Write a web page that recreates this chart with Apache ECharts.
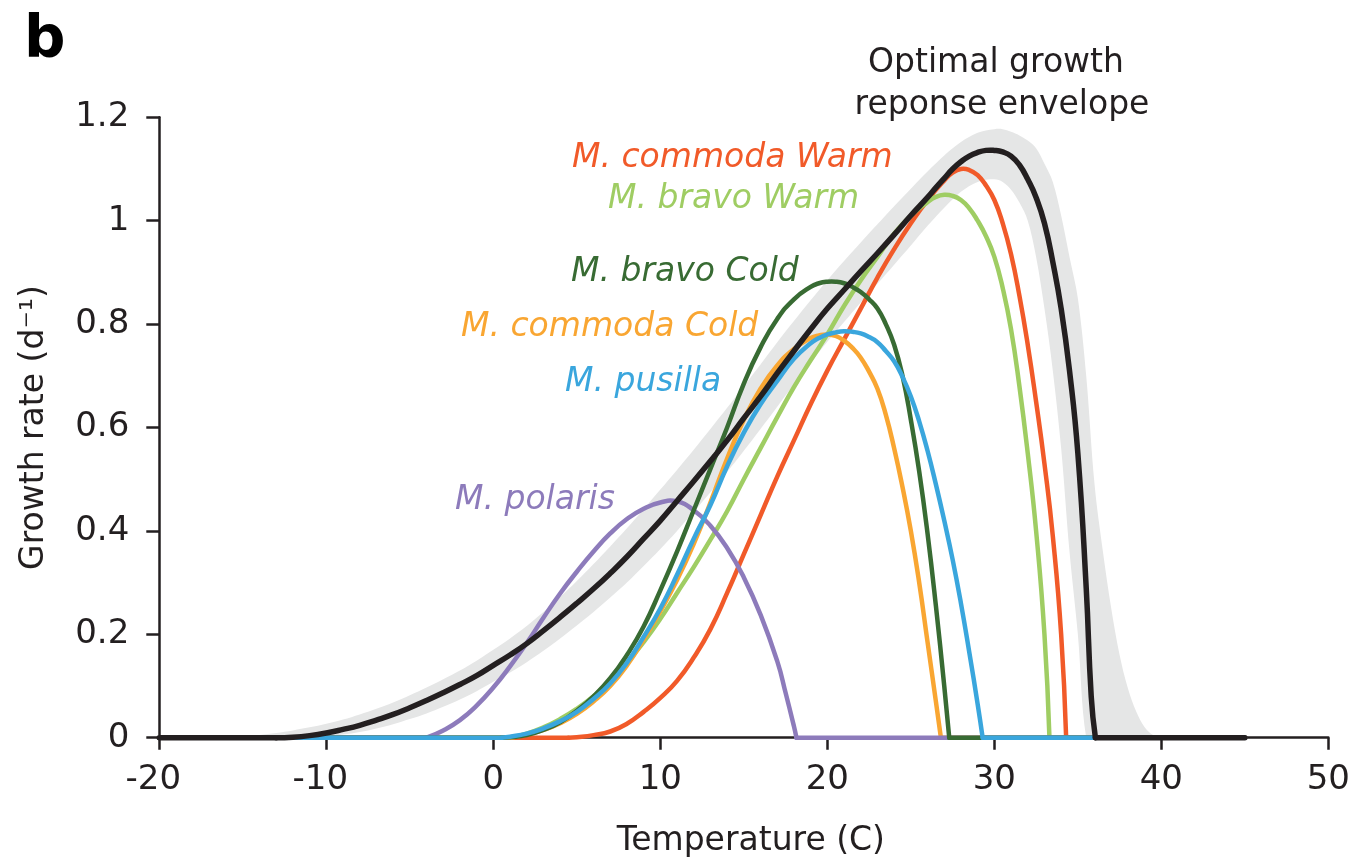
<!DOCTYPE html>
<html>
<head>
<meta charset="utf-8">
<script src="https://cdn.jsdelivr.net/npm/echarts@6/dist/echarts.min.js"></script>
<style>
html,body{margin:0;padding:0;background:#ffffff;}
#chart{width:1353px;height:865px;}
</style>
</head>
<body>
<div id="chart"></div>
<script>
// ---------------- data ----------------
const panelLabel = 'b';
const xTitle = 'Temperature (C)';
const yTitle = 'Growth rate (d\u207B\u00B9)';
const envelopeTitle = ['Optimal growth', 'reponse envelope'];
const speciesNames = ['M. commoda Warm', 'M. bravo Warm', 'M. bravo Cold', 'M. commoda Cold', 'M. pusilla', 'M. polaris'];

// curve points [temperature, growth rate]
const commodaWarm = [[4.5,0],[5,0.001],[6,0.005],[7,0.012],[8,0.027],[9,0.05],[10,0.077],[11,0.11],[12,0.155],[13,0.21],[14,0.28],[15,0.355],[16,0.43],[17,0.505],[18,0.575],[19,0.645],[20,0.71],[21,0.77],[22,0.83],[23,0.89],[24,0.945],[25,0.995],[26,1.04],[27,1.078],[27.5,1.093],[28,1.1],[28.5,1.098],[29,1.088],[29.5,1.068],[30,1.04],[30.5,0.995],[31,0.935],[31.5,0.855],[32,0.76],[32.5,0.65],[33,0.53],[33.5,0.39],[34,0.2],[34.3,0]];
const bravoWarm = [[1,0],[2,0.008],[3,0.02],[4,0.036],[5,0.056],[6,0.08],[7,0.11],[8,0.145],[9,0.185],[10,0.23],[11,0.28],[12,0.33],[13,0.383],[14,0.438],[15,0.5],[16,0.56],[17,0.62],[18,0.678],[19,0.73],[20,0.78],[21,0.835],[22,0.885],[23,0.93],[24,0.975],[25,1.01],[26,1.036],[26.5,1.046],[27,1.05],[27.5,1.048],[28,1.04],[28.5,1.024],[29,1.0],[29.5,0.97],[30,0.93],[30.5,0.87],[31,0.79],[31.5,0.68],[32,0.55],[32.5,0.4],[33,0.2],[33.3,0]];
const commodaCold = [[1,0],[2,0.006],[3,0.015],[4,0.028],[5,0.046],[6,0.07],[7,0.1],[8,0.14],[9,0.19],[10,0.245],[11,0.305],[12,0.375],[13,0.455],[14,0.54],[15,0.615],[16,0.675],[17,0.72],[18,0.752],[19,0.773],[19.5,0.778],[20,0.78],[20.5,0.777],[21,0.768],[21.5,0.754],[22,0.735],[22.5,0.708],[23,0.675],[23.5,0.625],[24,0.56],[24.5,0.485],[25,0.4],[25.5,0.3],[26,0.185],[26.5,0.07],[26.8,0]];
const polaris = [[-4,0],[-3,0.014],[-2,0.034],[-1,0.062],[0,0.097],[1,0.138],[2,0.183],[3,0.232],[4,0.279],[5,0.321],[6,0.36],[7,0.395],[8,0.423],[9,0.443],[10,0.455],[11,0.457],[12,0.44],[13,0.41],[14,0.367],[15,0.31],[16,0.238],[17,0.148],[17.5,0.087],[18,0.022],[18.15,0]];
const bravoCold = [[0.5,0],[1,0.001],[2,0.005],[3,0.015],[4,0.03],[5,0.052],[6,0.08],[7,0.115],[8,0.16],[9,0.215],[10,0.285],[11,0.36],[12,0.44],[13,0.52],[14,0.6],[15,0.685],[16,0.755],[17,0.81],[18,0.848],[19,0.872],[19.5,0.879],[20,0.882],[20.5,0.882],[21,0.879],[21.5,0.872],[22,0.862],[22.5,0.848],[23,0.83],[23.5,0.8],[24,0.76],[24.5,0.7],[25,0.615],[25.5,0.515],[26,0.395],[26.5,0.255],[27,0.1],[27.3,0]];
const pusilla = [[0.5,0],[1,0.002],[2,0.008],[3,0.018],[4,0.032],[5,0.05],[6,0.075],[7,0.105],[8,0.145],[9,0.195],[10,0.25],[11,0.315],[12,0.385],[13,0.45],[14,0.525],[15,0.59],[16,0.645],[17,0.69],[18,0.733],[19,0.763],[19.5,0.773],[20,0.78],[20.5,0.784],[21,0.786],[21.5,0.785],[22,0.782],[22.5,0.775],[23,0.765],[23.5,0.748],[24,0.728],[24.5,0.698],[25,0.66],[25.5,0.612],[26,0.555],[26.5,0.49],[27,0.42],[27.5,0.345],[28,0.26],[28.5,0.165],[29,0.065],[29.3,0]];
const envelope = [[-13,0],[-12,0.001],[-11,0.004],[-10,0.009],[-9,0.016],[-8,0.024],[-7,0.034],[-6,0.045],[-5,0.058],[-4,0.072],[-3,0.087],[-2,0.103],[-1,0.12],[0,0.14],[1,0.16],[2,0.182],[3,0.207],[4,0.233],[5,0.26],[6,0.288],[7,0.318],[8,0.35],[9,0.385],[10,0.42],[11,0.458],[12,0.496],[13,0.535],[14,0.575],[15,0.618],[16,0.66],[17,0.705],[18,0.748],[19,0.79],[20,0.83],[21,0.866],[22,0.902],[23,0.937],[24,0.973],[25,1.01],[26,1.045],[26.5,1.064],[27,1.082],[27.5,1.1],[28,1.114],[28.5,1.125],[29,1.132],[29.5,1.136],[30,1.136],[30.5,1.133],[31,1.125],[31.5,1.108],[32,1.08],[32.5,1.045],[33,0.995],[33.5,0.92],[34,0.83],[34.5,0.71],[35,0.55],[35.5,0.29],[35.8,0.08],[36.05,0]];

// grey uncertainty band around the envelope (upper and lower edges)
const bandX  = [-16,-15,-14,-13,-12,-11,-10,-9,-8,-7,-6,-5,-4,-3,-2,-1,0,1,2,3,4,5,6,7,8,9,10,11,12,13,14,15,16,17,18,19,20,21,22,23,24,25,26,27,28,29,30,30.5,31,31.5,32,32.5,33,33.5,34,34.5,35,35.5,36,36.5,37,37.5,38,38.5,39,39.5,40];
const bandHi = [0,0.002,0.005,0.009,0.014,0.02,0.027,0.035,0.045,0.056,0.068,0.082,0.097,0.113,0.13,0.149,0.17,0.192,0.216,0.243,0.272,0.303,0.336,0.37,0.405,0.442,0.48,0.518,0.557,0.597,0.638,0.68,0.722,0.765,0.806,0.846,0.885,0.922,0.958,0.993,1.028,1.062,1.095,1.126,1.152,1.17,1.177,1.177,1.172,1.165,1.155,1.14,1.11,1.075,1.01,0.93,0.85,0.7,0.49,0.36,0.25,0.16,0.095,0.05,0.02,0.005,0];
const bandLo = [0,0,0,0,0,0,0.002,0.006,0.011,0.018,0.026,0.036,0.047,0.06,0.074,0.09,0.108,0.126,0.146,0.168,0.192,0.217,0.243,0.271,0.3,0.332,0.365,0.4,0.437,0.475,0.514,0.555,0.597,0.64,0.683,0.725,0.766,0.804,0.842,0.878,0.915,0.952,0.99,1.025,1.056,1.075,1.08,1.075,1.06,1.035,1.0,0.93,0.83,0.71,0.56,0.36,0.2,0,0,0,0,0,0,0,0,0,0];

const xMin = -20, xMax = 50, xStep = 10, lineEnd = 45;
const yMin = 0, yMax = 1.2, yStep = 0.2;

// ---------------- styling ----------------
const C = {
  commodaWarm: '#f15a29',
  bravoWarm: '#9fcd63',
  bravoCold: '#386b33',
  commodaCold: '#f9a632',
  pusilla: '#3aa6dd',
  polaris: '#8d7bbb',
  envelope: '#231f20',
  band: '#e5e6e6',
  axis: '#231f20'
};
const FONT = '"DejaVu Sans", "Liberation Sans", Arial, sans-serif';
const SMOOTH = 0.5;

// a curve drawn through the cartesian scales, with the zero baseline on both sides
function curveSeries(name, pts, color, width) {
  return {
    name: name, type: 'custom', coordinateSystem: 'cartesian2d',
    data: pts, silent: true, animation: false, z: 3,
    renderItem: function (params, api) {
      if (params.dataIndex !== 0) return null;
      const first = pts[0][0], last = pts[pts.length - 1][0];
      const style = { stroke: color, lineWidth: width, fill: null, lineCap: 'round', lineJoin: 'round' };
      return {
        type: 'group',
        children: [
          { type: 'polyline', shape: { points: [api.coord([xMin, 0]), api.coord([first, 0])] }, style: style },
          { type: 'polyline', shape: { points: pts.map(p => api.coord(p)), smooth: SMOOTH }, style: style },
          { type: 'polyline', shape: { points: [api.coord([last, 0]), api.coord([lineEnd, 0])] }, style: style }
        ]
      };
    }
  };
}

function bandSeries() {
  return {
    name: 'envelope band', type: 'custom', coordinateSystem: 'cartesian2d',
    data: bandX.map((x, i) => [x, bandHi[i], bandLo[i]]),
    encode: { x: 0, y: [1, 2] }, silent: true, animation: false, z: 2,
    renderItem: function (params, api) {
      if (params.dataIndex !== 0) return null;
      const upper = bandX.map((x, i) => api.coord([x, bandHi[i]]));
      const lower = bandX.map((x, i) => api.coord([x, bandLo[i]])).reverse();
      return {
        type: 'polygon',
        shape: { points: upper.concat(lower), smooth: 0.35 },
        style: { fill: C.band, stroke: null }
      };
    }
  };
}

const chart = echarts.init(document.getElementById('chart'), null, { renderer: 'canvas' });

const txt = (text, x, y, font, fill, align) => ({
  type: 'text', x: x, y: y, silent: true, z: 100,
  style: { text: text, font: font, fill: fill, textAlign: align || 'left', textVerticalAlign: 'middle', verticalAlign: 'middle' }
});

const tickFont = { fontFamily: FONT, fontSize: 34, color: C.axis };

const option = {
  backgroundColor: '#ffffff',
  animation: false,
  grid: { left: 159.3, right: 23, top: 117.3, bottom: 127.3, containLabel: false },
  xAxis: {
    type: 'value', min: xMin, max: xMax, interval: xStep,
    name: xTitle, nameLocation: 'middle', nameGap: 87,
    nameTextStyle: { fontFamily: FONT, fontSize: 33, color: C.axis, padding: [0, 0, 0, 14] },
    axisLine: { show: true, onZero: false, lineStyle: { color: C.axis, width: 2.5 } },
    axisTick: { show: true, length: 12, lineStyle: { color: C.axis, width: 2.5 } },
    axisLabel: Object.assign({
      margin: 25,
      formatter: v => (v < 0 ? '{neg|' + v + '}' : String(v)),
      rich: { neg: Object.assign({ padding: [0, 12, 0, 0] }, tickFont) }
    }, tickFont),
    splitLine: { show: false }, z: 1
  },
  yAxis: {
    type: 'value', min: yMin, max: yMax, interval: yStep,
    name: yTitle, nameLocation: 'middle', nameGap: 108,
    nameTextStyle: { fontFamily: FONT, fontSize: 33, color: C.axis },
    axisLine: { show: true, onZero: false, lineStyle: { color: C.axis, width: 2.5 } },
    axisTick: { show: true, length: 13, lineStyle: { color: C.axis, width: 2.5 } },
    axisLabel: Object.assign({ margin: 30 }, tickFont),
    splitLine: { show: false }, z: 1
  },
  series: [
    bandSeries(),
    curveSeries(speciesNames[0], commodaWarm, C.commodaWarm, 4.5),
    curveSeries(speciesNames[1], bravoWarm, C.bravoWarm, 4.5),
    curveSeries(speciesNames[3], commodaCold, C.commodaCold, 4.5),
    curveSeries(speciesNames[5], polaris, C.polaris, 4.5),
    curveSeries(speciesNames[2], bravoCold, C.bravoCold, 4.5),
    curveSeries(speciesNames[4], pusilla, C.pusilla, 4.5),
    curveSeries('Optimal growth envelope', envelope, C.envelope, 5.5)
  ],
  graphic: [
    txt(panelLabel, 24, 42, 'bold 58px ' + FONT, '#000000'),
    txt(envelopeTitle[0], 996, 63, '33px ' + FONT, C.axis, 'center'),
    txt(envelopeTitle[1], 1002, 105, '33px ' + FONT, C.axis, 'center'),
    txt(speciesNames[0], 572, 158, 'italic 33px ' + FONT, C.commodaWarm),
    txt(speciesNames[1], 608, 199, 'italic 33px ' + FONT, C.bravoWarm),
    txt(speciesNames[2], 571, 272, 'italic 33px ' + FONT, C.bravoCold),
    txt(speciesNames[3], 461, 327, 'italic 33px ' + FONT, C.commodaCold),
    txt(speciesNames[4], 565, 382, 'italic 33px ' + FONT, C.pusilla),
    txt(speciesNames[5], 455, 500, 'italic 33px ' + FONT, C.polaris)
  ]
};
chart.setOption(option);
</script>
</body>
</html>
